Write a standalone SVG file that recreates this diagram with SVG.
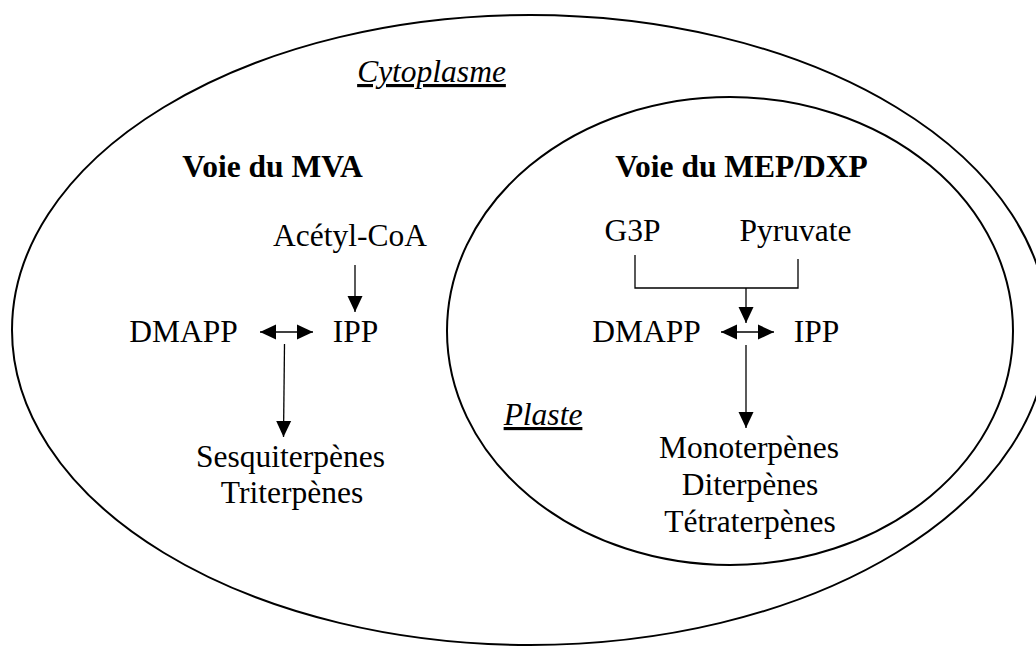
<svg xmlns="http://www.w3.org/2000/svg" width="1036" height="647" viewBox="0 0 1036 647">
<style>
  text { font-family: "Liberation Serif", "Times New Roman", serif; font-size: 31.5px; fill: #000; text-anchor: middle; }
  .b { font-weight: bold; }
  .i { font-style: italic; text-decoration: underline; }
  .comp { fill: none; stroke: #000; stroke-width: 2; }
  .c { fill: none; stroke: #000; stroke-width: 1.3; }
</style>
<defs>
  <marker id="ah" markerUnits="userSpaceOnUse" markerWidth="16" markerHeight="16" viewBox="0 0 16 16" refX="16" refY="8" orient="auto-start-reverse">
    <path d="M0,0.5 L16,8 L0,15.5 z" fill="#000"/>
  </marker>
</defs>
<rect width="1036" height="647" fill="#fff"/>
<g id="cytoplasme">
  <ellipse class="comp" cx="530" cy="330" rx="518" ry="315"/>
  <text class="i" x="431.5" y="82">Cytoplasme</text>
</g>
<g id="plaste">
  <ellipse class="comp" cx="730" cy="331" rx="283" ry="234"/>
  <text class="i" x="543" y="425">Plaste</text>
</g>
<g id="mva-title"><text class="b" x="272.5" y="177">Voie du MVA</text></g>
<g id="mep-title"><text class="b" x="741.5" y="177">Voie du MEP/DXP</text></g>
<g id="acetylcoa"><text x="350" y="246">Acétyl-CoA</text></g>
<g id="dmapp-mva"><text x="183.5" y="342">DMAPP</text></g>
<g id="ipp-mva"><text x="355.5" y="342">IPP</text></g>
<g id="sesqui-tri">
  <text x="290.5" y="467">Sesquiterpènes</text>
  <text x="292" y="503">Triterpènes</text>
</g>
<g id="g3p"><text x="632.5" y="241">G3P</text></g>
<g id="pyruvate"><text x="795.5" y="241">Pyruvate</text></g>
<g id="dmapp-mep"><text x="646.5" y="342">DMAPP</text></g>
<g id="ipp-mep"><text x="816.5" y="342">IPP</text></g>
<g id="mono-di-tetra">
  <text x="749" y="458">Monoterpènes</text>
  <text x="750" y="495">Diterpènes</text>
  <text x="750" y="532">Tétraterpènes</text>
</g>
<g id="connectors">
  <line class="c" x1="355" y1="265" x2="355" y2="312" marker-end="url(#ah)"/>
  <line class="c" x1="260" y1="332" x2="313" y2="332" marker-start="url(#ah)" marker-end="url(#ah)"/>
  <line class="c" x1="284.5" y1="344" x2="283.5" y2="437" marker-end="url(#ah)"/>
  <polyline class="c" points="635,255 635,288 798,288 798,259"/>
  <line class="c" x1="746" y1="288" x2="746" y2="323" marker-end="url(#ah)"/>
  <line class="c" x1="721" y1="332" x2="774" y2="332" marker-start="url(#ah)" marker-end="url(#ah)"/>
  <line class="c" x1="746" y1="345" x2="746" y2="428" marker-end="url(#ah)"/>
</g>
</svg>
